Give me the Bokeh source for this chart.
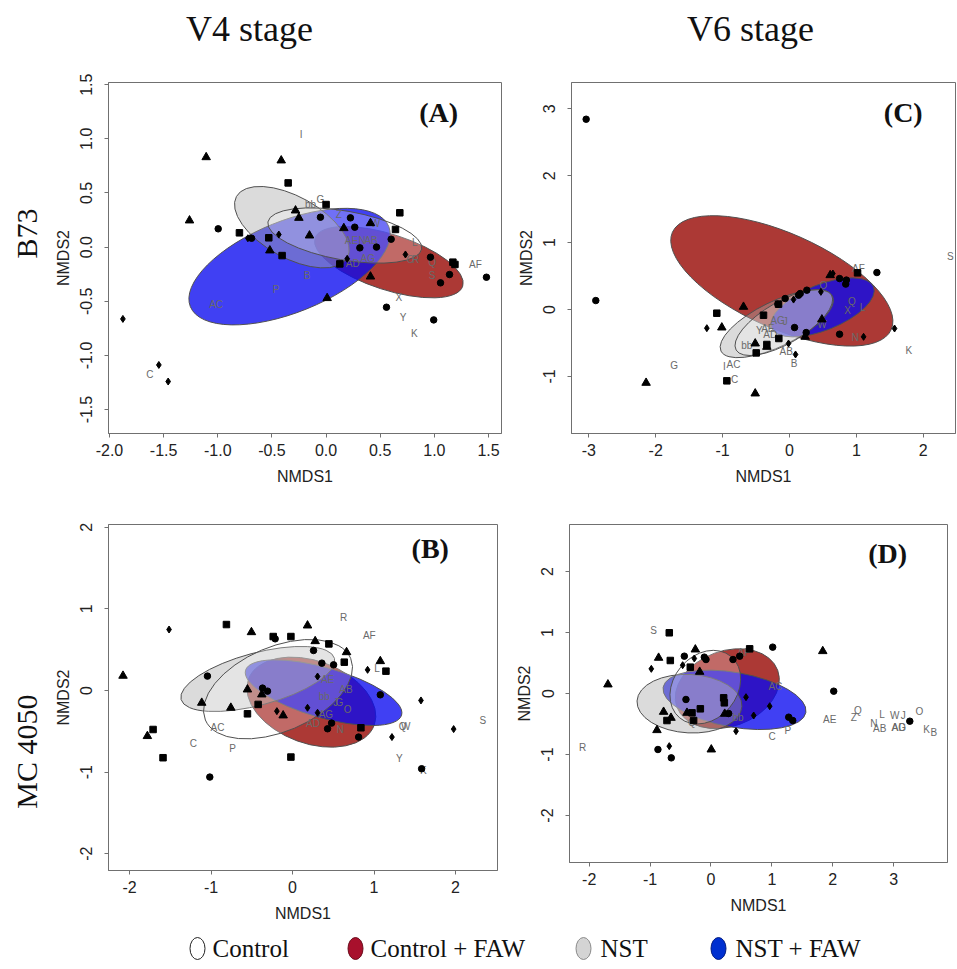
import math
from bokeh.plotting import figure
from bokeh.models import Range1d, FixedTicker, LinearAxis, Label, CustomJSTickFormatter
from bokeh.layouts import column, row
from bokeh.embed import file_html
from bokeh.resources import INLINE
from bokeh.core.properties import value

# ---------------- data ----------------
STAGES = ["V4 stage", "V6 stage"]
GROUPS = ["Control", "Control + FAW", "NST", "NST + FAW"]
ELL_FILL = ["#ffffff", "#a3241f", "#a9a9a9", "#0a0af0"]
ELL_ALPHA = [0.25, 0.9, 0.42, 0.78]
LEGEND_FILL = ["#ffffff", "#a8102c", "#d4d4d4", "#0030d0"]
LEGEND_LINE = ["#222222", "#6a0a1a", "#8a8a8a", "#001a80"]
DRAW_ORDER = [1, 3, 2, 0]

# Panel A (B73, V4)
A_ELL_X = [0.173, 0.58, -0.316, -0.337]
A_ELL_Y = [0.107, -0.139, 0.184, -0.18]
A_ELL_W = [1.442, 1.434, 1.17, 1.976]
A_ELL_H = [0.452, 0.513, 0.566, 0.843]
A_ELL_ANG = [-10, -18, -29, 22]
A_TRI_X = [-1.107, -0.414, -1.261, -0.282, -0.251, -0.153, -0.519, 0.164, 0.41, 0.41, 0.01]
A_TRI_Y = [0.83, 0.80, 0.246, 0.338, 0.27, 0.107, -0.031, 0.175, 0.221, -0.272, -0.471]
A_SQ_X = [-0.35, 0.0, 0.681, -0.8, -0.529, -0.406, 0.127, 0.641, 1.171, 1.19]
A_SQ_Y = [0.593, 0.393, 0.317, 0.132, 0.086, -0.078, -0.155, 0.163, -0.139, -0.16]
A_CIR_X = [-0.996, -0.688, -0.052, 0.225, 0.265, 0.312, 0.466, 0.601, 0.964, 1.057, 1.14, 1.481, 0.558, 0.994]
A_CIR_Y = [0.169, 0.082, 0.276, 0.27, 0.184, -0.007, 0.0, 0.073, -0.093, -0.33, -0.253, -0.278, -0.555, -0.672]
A_DIA_X = [-1.876, -1.544, -1.458, -0.436, -0.722, 0.195, 0.733]
A_DIA_Y = [-0.663, -1.088, -1.241, 0.116, 0.082, -0.108, -0.068]
A_LAB = ["I", "G", "bb", "Z", "W", "AE", "N", "AB", "L", "AG", "AD", "O", "R", "Q", "S", "AF", "B", "P", "AC", "X", "Y", "K", "C"]
A_LAB_X = [-0.23, -0.052, -0.144, 0.118, 0.456, 0.235, 0.333, 0.416, 0.82, 0.385, 0.247, 0.778, 0.827, 0.98, 0.98, 1.38, -0.175, -0.461, -1.015, 0.672, 0.711, 0.816, -1.627]
A_LAB_Y = [1.04, 0.439, 0.39, 0.301, 0.221, 0.061, 0.061, 0.061, 0.039, -0.108, -0.154, -0.118, -0.118, -0.139, -0.262, -0.161, -0.262, -0.395, -0.53, -0.469, -0.647, -0.801, -1.18]
A_XTICKS = [-2.0, -1.5, -1.0, -0.5, 0.0, 0.5, 1.0, 1.5]
A_YTICKS = [-1.5, -1.0, -0.5, 0.0, 0.5, 1.0, 1.5]

# Panel C (B73, V6)
C_ELL_X = [-0.085, -0.115, -0.19, 0.494]
C_ELL_Y = [-0.194, 0.428, -0.214, 0.032]
C_ELL_W = [1.647, 3.58, 1.857, 1.644]
C_ELL_H = [0.628, 1.419, 0.668, 0.682]
C_ELL_ANG = [30, -24, 26, 22]
C_TRI_X = [-0.688, -1.012, -2.144, -0.513, -0.513, -0.339, 0.608, 0.484, 0.234]
C_TRI_Y = [0.04, -0.269, -1.096, -1.255, -0.508, -0.558, 0.513, -0.149, -0.408]
C_SQ_X = [-1.087, -0.389, -0.164, -0.16, -0.339, -0.498, -0.937, 1.017]
C_SQ_Y = [-0.055, -0.085, 0.08, -0.433, -0.523, -0.648, -1.066, 0.548]
C_CIR_X = [-3.04, -2.896, 1.306, 0.85, 0.84, 0.259, 0.16, 0.135, -0.065, -0.174, 0.748, 0.075, 0.249, 0.748]
C_CIR_Y = [2.844, 0.134, 0.553, 0.44, 0.38, 0.289, 0.239, 0.214, 0.164, 0.08, 0.463, -0.269, -0.344, -0.369]
C_DIA_X = [0.648, 0.06, 0.469, 1.107, 1.57, -1.236, 0.09, -0.015]
C_DIA_Y = [0.538, 0.149, 0.264, -0.408, -0.284, -0.279, -0.672, -0.508]
C_LAB = ["S", "K", "N", "L", "X", "Q", "O", "AF", "W", "AG", "J", "Y", "AE", "AD", "bb", "AB", "B", "AC", "I", "C", "G"]
C_LAB_X = [2.403, 1.785, 0.982, 1.092, 0.867, 0.932, 0.508, 1.03, 0.484, -0.179, -0.065, -0.453, -0.324, -0.289, -0.638, -0.05, 0.07, -0.837, -0.972, -0.822, -1.725]
C_LAB_Y = [0.787, -0.618, -0.418, 0.025, -0.01, 0.115, 0.364, 0.608, -0.219, -0.169, -0.184, -0.319, -0.284, -0.369, -0.543, -0.633, -0.807, -0.817, -0.847, -1.041, -0.832]
C_XTICKS = [-3, -2, -1, 0, 1, 2]
C_YTICKS = [-1, 0, 1, 2, 3]

# Panel B (MC 4050, V4)
B_ELL_X = [-0.178, 0.231, -0.426, 0.381]
B_ELL_Y = [0.016, -0.143, 0.141, -0.027]
B_ELL_W = [1.937, 1.643, 1.949, 1.992]
B_ELL_H = [1.038, 1.012, 0.64, 0.613]
B_ELL_ANG = [23, -20, 15, -16]
B_TRI_X = [-2.08, -0.504, 0.184, 0.278, 0.663, 1.077, -1.114, -0.757, -0.553, -0.377, -0.115, -1.781]
B_TRI_Y = [0.18, 0.714, 0.796, 0.604, 0.469, 0.359, -0.151, -0.212, 0.012, -0.049, -0.306, -0.559]
B_SQ_X = [-0.811, -0.237, -0.02, 0.446, 0.635, 1.146, -0.422, -0.553, 0.839, -0.02, -1.589, -1.711]
B_SQ_Y = [0.808, 0.661, 0.661, 0.571, 0.347, 0.237, -0.171, -0.286, -0.457, -0.816, -0.824, -0.478]
B_CIR_X = [0.258, 0.36, 0.504, -1.044, -0.368, -0.307, 1.077, 0.479, 0.43, 0.811, -1.015, 1.584, -0.213]
B_CIR_Y = [0.49, 0.335, 0.314, 0.176, 0.029, -0.008, -0.053, -0.4, -0.469, -0.571, -1.061, -0.959, 0.633]
B_DIA_X = [-1.515, 0.921, 0.307, -0.192, 0.184, 0.307, 1.576, 1.22, 1.977]
B_DIA_Y = [0.747, 0.253, 0.171, -0.253, -0.212, -0.273, -0.122, -0.571, -0.473]
B_LAB = ["R", "AF", "L", "AE", "AB", "bb", "J", "G", "O", "AG", "AD", "N", "AC", "C", "P", "Q", "W", "Y", "K", "S"]
B_LAB_X = [0.626, 0.942, 1.036, 0.43, 0.655, 0.389, 0.53, 0.575, 0.676, 0.409, 0.25, 0.585, -0.921, -1.216, -0.737, 1.35, 1.39, 1.31, 1.605, 2.334]
B_LAB_Y = [0.89, 0.673, 0.273, 0.131, 0.008, -0.069, -0.143, -0.143, -0.233, -0.298, -0.4, -0.478, -0.449, -0.653, -0.714, -0.437, -0.437, -0.837, -0.98, -0.367]
B_XTICKS = [-2, -1, 0, 1, 2]
B_YTICKS = [-2, -1, 0, 1, 2]

# Panel D (MC 4050, V6)
D_ELL_X = [-0.093, 0.268, -0.353, 0.386]
D_ELL_Y = [0.104, 0.079, -0.167, -0.104]
D_ELL_W = [1.314, 1.761, 1.725, 2.38]
D_ELL_H = [1.04, 1.237, 0.958, 0.896]
D_ELL_ANG = [50, 20, -3, -10]
D_TRI_X = [-1.692, -0.86, -0.257, -0.186, -0.778, -0.657, -0.887, -0.394, 0.225, 0.005, 1.835]
D_TRI_Y = [0.148, 0.585, 0.721, 0.355, -0.301, -0.399, -0.601, -0.317, -0.333, -0.918, 0.694]
D_SQ_X = [-0.685, -0.668, -0.34, 0.635, -0.175, 0.208, 0.219, -0.723, -0.312, -0.285]
D_SQ_Y = [0.995, 0.541, 0.432, 0.732, -0.251, -0.071, -0.153, -0.443, -0.317, -0.443]
D_CIR_X = [-0.438, -0.11, -0.082, 0.361, 0.471, 1.013, 2.015, -0.411, 0.29, 1.276, 1.342, -0.871, -0.652, 3.264]
D_CIR_Y = [0.612, 0.596, 0.557, 0.557, 0.612, 0.76, 0.038, -0.098, -0.328, -0.388, -0.443, -0.918, -1.055, -0.454]
D_DIA_X = [-0.98, -0.465, -0.274, 0.575, 0.701, 0.964, 0.411, -0.685]
D_DIA_Y = [0.404, 0.464, 0.574, -0.06, -0.361, -0.208, -0.617, -0.863]
D_LAB = ["S", "R", "Q", "AF", "AC", "bb", "C", "P", "AE", "Z", "Q", "L", "N", "AB", "W", "J", "AG", "AD", "O", "K", "B"]
D_LAB_X = [-0.942, -2.108, -0.312, 0.537, 1.057, 0.444, 1.002, 1.26, 1.95, 2.344, 2.41, 2.81, 2.672, 2.771, 3.018, 3.155, 3.083, 3.083, 3.423, 3.538, 3.658]
D_LAB_Y = [1.038, -0.88, -0.481, 0.667, 0.109, -0.399, -0.71, -0.607, -0.432, -0.399, -0.273, -0.344, -0.497, -0.574, -0.355, -0.355, -0.563, -0.563, -0.301, -0.59, -0.634]
D_XTICKS = [-2, -1, 0, 1, 2, 3]
D_YTICKS = [-2, -1, 0, 1, 2]

SERIF = "Liberation Serif"
SANS = "Liberation Sans"
FRAME = "#707070"


def strip(width, height):
    p = figure(frame_width=width, frame_height=height, x_range=Range1d(0, width), y_range=Range1d(0, height),
               min_border_left=0, min_border_right=0, min_border_top=0, min_border_bottom=0,
               output_backend="svg", toolbar_location=None)
    p.axis.visible = False
    p.grid.visible = False
    p.outline_line_color = None
    return p


def style_axes(p, xticks, yticks, digits):
    p.xaxis.ticker = FixedTicker(ticks=xticks)
    p.yaxis.ticker = FixedTicker(ticks=yticks)
    fmt = "return tick.toFixed(%d);" % digits
    p.xaxis.formatter = CustomJSTickFormatter(code=fmt)
    p.yaxis.formatter = CustomJSTickFormatter(code=fmt)
    p.xaxis.axis_label = "NMDS1"
    p.yaxis.axis_label = "NMDS2"
    for ax in (p.xaxis, p.yaxis):
        ax.axis_line_color = FRAME
        ax.major_tick_line_color = FRAME
        ax.minor_tick_line_color = None
        ax.major_tick_in = 0
        ax.major_tick_out = 4
        ax.major_label_text_font = SANS
        ax.major_label_text_font_size = "16px"
        ax.major_label_text_color = "#222222"
        ax.axis_label_text_font = SANS
        ax.axis_label_text_font_size = "16px"
        ax.axis_label_text_font_style = "normal"
        ax.axis_label_text_color = "#222222"
    p.xaxis.major_label_standoff = 6
    p.xaxis.axis_label_standoff = 9
    p.yaxis.major_label_standoff = 12
    p.yaxis.axis_label_standoff = 6
    p.yaxis.major_label_orientation = "vertical"


def make_panel(xr, yr, fw, fh, borders, ell, tri, sq, cir, dia, lab, xticks, yticks, digits, tag, tag_pos):
    left, right, top, bottom = borders
    p = figure(frame_width=fw, frame_height=fh, x_range=Range1d(*xr), y_range=Range1d(*yr),
               min_border_left=left, min_border_right=right, min_border_top=top, min_border_bottom=bottom,
               output_backend="svg", toolbar_location=None)
    p.grid.visible = False
    p.outline_line_color = FRAME
    p.outline_line_width = 1
    p.background_fill_color = "white"
    p.border_fill_color = "white"
    ex, ey, ew, eh, ea = ell
    for i in DRAW_ORDER:
        p.ellipse(x=[ex[i]], y=[ey[i]], width=[ew[i]], height=[eh[i]], angle=[math.radians(ea[i])],
                  fill_color=ELL_FILL[i], fill_alpha=ELL_ALPHA[i], line_color="#505050", line_width=1)
    p.text(x=lab[1], y=lab[2], text=lab[0], text_align="center", text_baseline="middle",
           text_font=value(SANS), text_font_size="10px", text_color="#6a6a6a")
    p.scatter(x=tri[0], y=tri[1], marker="triangle", size=8.5, color="black")
    p.scatter(x=sq[0], y=sq[1], marker="square", size=6.5, color="black")
    p.scatter(x=cir[0], y=cir[1], marker="circle", size=6.5, color="black")
    p.scatter(x=dia[0], y=dia[1], marker="diamond", size=7, color="black")
    style_axes(p, xticks, yticks, digits)
    p.add_layout(Label(x=tag_pos[0], y=tag_pos[1], text=tag, text_font=SERIF, text_font_size="28px",
                       text_font_style="bold", text_align="center", text_baseline="middle", text_color="#111111"))
    return p


def add_row_label(p, text, ypos):
    ax = LinearAxis(ticker=FixedTicker(ticks=[ypos]),
                    formatter=CustomJSTickFormatter(code="return '%s';" % text))
    ax.axis_line_color = None
    ax.major_tick_line_color = None
    ax.minor_tick_line_color = None
    ax.major_tick_out = 0
    ax.major_tick_in = 0
    ax.major_label_standoff = 8
    ax.major_label_orientation = "vertical"
    ax.major_label_text_font = SERIF
    ax.major_label_text_font_size = "30px"
    ax.major_label_text_color = "#111111"
    p.add_layout(ax, "left")


# title strip
TITLE_X = [249, 750]
pT = strip(956, 60)
pT.text(x=TITLE_X, y=[32, 32], text=STAGES, text_align="center", text_baseline="middle",
        text_font=value(SERIF), text_font_size="36px", text_color="#111111")

pA = make_panel((-2.009, 1.62), (-1.721, 1.52), 393, 351, (108, 10, 22, 57),
                (A_ELL_X, A_ELL_Y, A_ELL_W, A_ELL_H, A_ELL_ANG),
                (A_TRI_X, A_TRI_Y), (A_SQ_X, A_SQ_Y), (A_CIR_X, A_CIR_Y), (A_DIA_X, A_DIA_Y),
                (A_LAB, A_LAB_X, A_LAB_Y), A_XTICKS, A_YTICKS, 1, "(A)", (1.04, 1.24))
add_row_label(pA, "B73", 0.125)

pC = make_panel((-3.259, 2.481), (-1.853, 3.393), 384, 351, (60, 1, 22, 57),
                (C_ELL_X, C_ELL_Y, C_ELL_W, C_ELL_H, C_ELL_ANG),
                (C_TRI_X, C_TRI_Y), (C_SQ_X, C_SQ_Y), (C_CIR_X, C_CIR_Y), (C_DIA_X, C_DIA_Y),
                (C_LAB, C_LAB_X, C_LAB_Y), C_XTICKS, C_YTICKS, 0, "(C)", (1.70, 2.94))

pB = make_panel((-2.258, 2.515), (-2.206, 2.034), 389, 346, (108, 12, 34, 60),
                (B_ELL_X, B_ELL_Y, B_ELL_W, B_ELL_H, B_ELL_ANG),
                (B_TRI_X, B_TRI_Y), (B_SQ_X, B_SQ_Y), (B_CIR_X, B_CIR_Y), (B_DIA_X, B_DIA_Y),
                (B_LAB, B_LAB_X, B_LAB_Y), B_XTICKS, B_YTICKS, 0, "(B)", (1.69, 1.74))
add_row_label(pB, "MC 4050", -0.75)

pD = make_panel((-2.323, 3.883), (-2.77, 2.77), 378, 338, (60, 9, 33, 69),
                (D_ELL_X, D_ELL_Y, D_ELL_W, D_ELL_H, D_ELL_ANG),
                (D_TRI_X, D_TRI_Y), (D_SQ_X, D_SQ_Y), (D_CIR_X, D_CIR_Y), (D_DIA_X, D_DIA_Y),
                (D_LAB, D_LAB_X, D_LAB_Y), D_XTICKS, D_YTICKS, 0, "(D)", (2.9, 2.3))

# legend strip
LEG_MARK_X = [197, 355, 583, 718]
LEG_TEXT_X = [212, 370, 600, 735]
pL = strip(956, 34)
pL.ellipse(x=LEG_MARK_X, y=[16] * 4, width=15, height=22, fill_color=LEGEND_FILL,
           line_color=LEGEND_LINE, line_width=1)
pL.text(x=LEG_TEXT_X, y=[16] * 4, text=GROUPS, text_baseline="middle", text_align="left",
        text_font=value(SERIF), text_font_size="25px", text_color="#111111")

layout = column(pT, row(pA, pC), row(pB, pD), pL)
open("out.html", "w").write(file_html(layout, INLINE))
